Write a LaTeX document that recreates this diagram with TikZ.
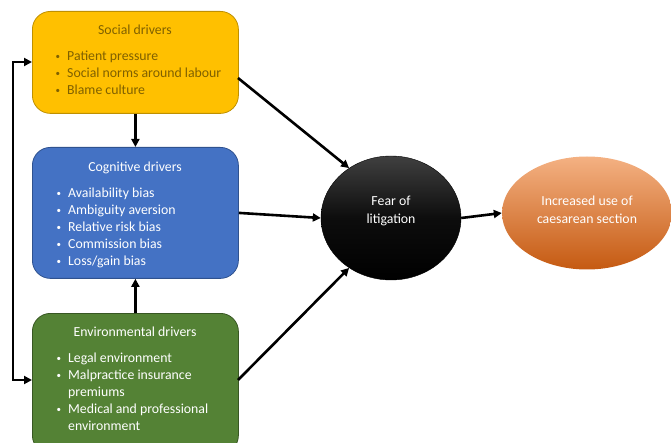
\documentclass[tikz,border=0pt]{standalone}
\usepackage{fontspec}
\setmainfont{Carlito}
\usetikzlibrary{arrows.meta,shapes.geometric}
\definecolor{gold}{HTML}{FFC000}
\definecolor{goldline}{HTML}{BF9000}
\definecolor{goldtext}{HTML}{7F6000}
\definecolor{cblue}{HTML}{4472C4}
\definecolor{cblueline}{HTML}{2F528F}
\definecolor{egreen}{HTML}{548235}
\definecolor{egreenline}{HTML}{385723}
\definecolor{orTop}{HTML}{F4B183}
\definecolor{orMid}{HTML}{ED7D31}
\definecolor{orBot}{HTML}{C55A11}
\tikzset{
  driver/.style={draw, line width=0.8pt, rounded corners=18pt, minimum width=206pt, anchor=north west},
  title/.style={font=\fontsize{13.8}{18}\selectfont, anchor=center},
  items/.style={font=\fontsize{13.8}{17}\selectfont, anchor=north west, align=left, inner sep=0pt},
  conn/.style={line width=2.6pt, -{Triangle[length=8pt,width=8pt]}},
}
\newcommand{\bul}{\makebox[13pt][l]{\hspace{1.5pt}\raisebox{1pt}{\fontsize{9}{9}\selectfont\textbullet}}}
\begin{document}
\begin{tikzpicture}[x=1pt,y=-1pt]
\useasboundingbox (0,0) rectangle (671,443);
% boxes
\node[driver, fill=gold, draw=goldline, minimum height=102pt] (soc) at (32,11) {};
\node[driver, fill=cblue, draw=cblueline, minimum height=131pt] (cog) at (32,147) {};
\node[driver, fill=egreen, draw=egreenline, minimum height=140pt] (env) at (32,313) {};
% circle & ellipse
\node[ellipse, minimum width=140pt, minimum height=124pt, top color=black!75, bottom color=black, middle color=black!95, draw=black] (fear) at (391,218) {};
\node[ellipse, minimum width=170pt, minimum height=113pt, top color=orTop, middle color=orMid, bottom color=orBot, draw=none] (cs) at (587,213) {};
% texts
\node[title, text=goldtext] (soct) at (135,30) {Social drivers};
\node[items, text=goldtext] (soci) at (54,51) {\bul Patient pressure\\ \bul Social norms around labour\\ \bul Blame culture};
\node[title, text=white] (cogt) at (135,168) {Cognitive drivers};
\node[items, text=white] (cogi) at (55,188) {\bul Availability bias\\ \bul Ambiguity aversion\\ \bul Relative risk bias\\ \bul Commission bias\\ \bul Loss/gain bias};
\node[title, text=white] (envt) at (135,332) {Environmental drivers};
\node[items, text=white] (envi) at (55,353) {\bul Legal environment\\ \bul Malpractice insurance\\ \hspace*{13pt}premiums\\ \bul Medical and professional\\ \hspace*{13pt}environment};
\node[title, text=white, align=center] (feart) at (391,211) {Fear of\\litigation};
\node[title, text=white, align=center] (cst) at (587,210) {Increased use of\\caesarean section};
% connectors
\coordinate (lt) at (13,62);
\coordinate (lb) at (13,380);
\draw[conn] (soc.south) -- (cog.north);
\draw[conn] (env.north) -- (cog.south);
\draw[conn] (238,78) -- (fear.130);
\draw[conn] (cog.east) -- (fear.west);
\draw[conn] (238,380) -- (fear.230);
\draw[conn] (fear.east) -- (cs.west);
\draw[line width=2.6pt, {Triangle[length=8pt,width=8pt]}-{Triangle[length=8pt,width=8pt]}] (soc.west |- lt) -- (lt) -- (lb) -- (env.west |- lb);
\end{tikzpicture}
\end{document}
